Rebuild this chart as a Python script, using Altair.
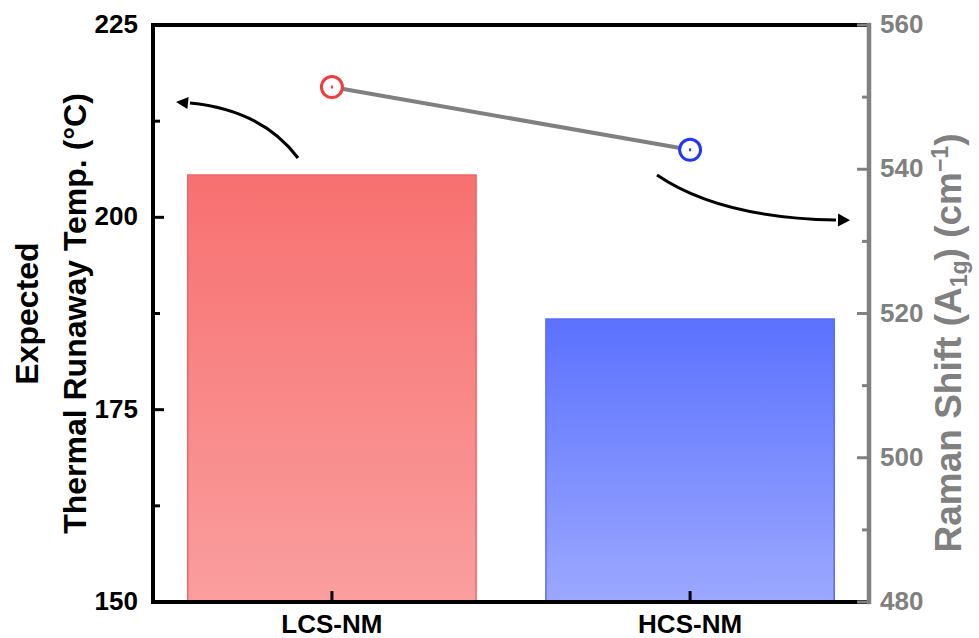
import altair as alt
import pandas as pd

# --- data -------------------------------------------------------------
samples = ["LCS-NM", "HCS-NM"]
runaway_temp = [205.5, 186.8]          # expected thermal runaway temperature (°C)
raman_shift = [551.4, 542.7]           # Raman A1g peak position (cm^-1)
raman_err = [0.2, 0.2]

temp_major = [150, 175, 200, 225]
temp_minor = [162.5, 187.5, 212.5]
raman_major = [480, 500, 520, 540, 560]
raman_minor = [490, 510, 530, 550]

# --- style ------------------------------------------------------------
W, H = 716, 577
FONT = "Liberation Sans"
GRAY = "#808080"
bar_colors = {
    "LCS-NM": ("#F87070", "#FA9E9E", "#F06666"),
    "HCS-NM": ("#5B71FF", "#9CA8FE", "#5A6CF8"),
}
point_colors = ["#F23B3B", "#2038F2"]

df = pd.DataFrame({
    "sample": samples,
    "temp": runaway_temp,
    "raman": raman_shift,
    "lo": [v - e for v, e in zip(raman_shift, raman_err)],
    "hi": [v + e for v, e in zip(raman_shift, raman_err)],
})
one = pd.DataFrame({"k": [0]})

temp_scale = alt.Scale(domain=[150, 225], zero=False, nice=False)
raman_scale = alt.Scale(domain=[480, 560], zero=False, nice=False)
x_scale = alt.Scale(domain=samples, paddingInner=0.195, paddingOuter=0.097)

X = alt.X("sample:N", sort=samples, scale=x_scale, axis=None)


def bar_layer(name):
    top, bottom, edge = bar_colors[name]
    grad = alt.Gradient(
        gradient="linear",
        stops=[alt.GradientStop(color=top, offset=0),
               alt.GradientStop(color=bottom, offset=1)],
        x1=0, x2=0, y1=0, y2=1,
    )
    return alt.Chart(df).transform_filter(alt.datum.sample == name).mark_bar(
        fill=grad, stroke=edge, strokeWidth=1.5
    ).encode(
        x=X,
        y=alt.Y("temp:Q", scale=temp_scale, axis=None),
        y2=alt.datum(150),
    )


def frame_line(x0, x1, y0, y1, color, width):
    return alt.Chart(one).mark_rule(color=color, strokeWidth=width,
                                    strokeCap="square").encode(
        x=alt.value(x0), x2=alt.value(x1), y=alt.value(y0), y2=alt.value(y1)
    )


def tick_rules(values, scale, x0, x1, color, width):
    d = pd.DataFrame({"v": values})
    return alt.Chart(d).mark_rule(color=color, strokeWidth=width).encode(
        y=alt.Y("v:Q", scale=scale, axis=None),
        x=alt.value(x0), x2=alt.value(x1),
    )


def tick_labels(values, scale, x, align, color):
    d = pd.DataFrame({"v": values, "t": [f"{v:g}" for v in values]})
    return alt.Chart(d).mark_text(
        align=align, baseline="middle", font=FONT, fontSize=26,
        fontWeight="bold", color=color
    ).encode(
        y=alt.Y("v:Q", scale=scale, axis=None),
        x=alt.value(x),
        text="t:N",
    )


# temperature side: bars, left axis, bottom axis and frame
left_part = alt.layer(
    bar_layer("LCS-NM"),
    bar_layer("HCS-NM"),
    frame_line(0, W, 0, 0, "black", 4),          # top
    frame_line(0, W, H, H, "black", 4),          # bottom
    frame_line(0, 0, 0, H, "black", 4),          # left
    tick_rules(temp_major, temp_scale, 0, 11, "black", 3),
    tick_rules(temp_minor, temp_scale, 0, 7, "black", 3),
    tick_labels(temp_major, temp_scale, -15, "right", "black"),
    alt.Chart(df).mark_rule(color="black", strokeWidth=3).encode(
        x=X, y=alt.value(H - 11), y2=alt.value(H)
    ),
    alt.Chart(df).mark_text(
        baseline="top", font=FONT, fontSize=26, fontWeight="bold", color="black"
    ).encode(x=X, y=alt.value(H + 10), text="sample:N"),
)

# Raman side: connecting line, hollow markers, small error bars, right axis
raman_line = alt.Chart(df).mark_line(color=GRAY, strokeWidth=4).encode(
    x=X, y=alt.Y("raman:Q", scale=raman_scale, axis=None),
)
raman_pts = alt.Chart(df).mark_point(
    shape="circle", size=440, filled=True, fill="white", fillOpacity=1,
    strokeWidth=3, opacity=1
).encode(
    x=X,
    y=alt.Y("raman:Q", scale=raman_scale, axis=None),
    stroke=alt.Stroke("sample:N", scale=alt.Scale(domain=samples, range=point_colors),
                      legend=None),
)
raman_err_bars = alt.Chart(df).mark_rule(strokeWidth=2).encode(
    x=X,
    y=alt.Y("lo:Q", scale=raman_scale, axis=None),
    y2="hi:Q",
    color=alt.Color("sample:N", scale=alt.Scale(domain=samples, range=point_colors),
                    legend=None),
)

right_part = alt.layer(
    raman_line, raman_pts, raman_err_bars,
    frame_line(W, W, 0, H, GRAY, 4.5),
    tick_rules(raman_major, raman_scale, W - 12, W, GRAY, 3),
    tick_rules(raman_minor, raman_scale, W - 7, W, GRAY, 3),
    tick_labels(raman_major, raman_scale, W + 11, "left", GRAY),
)


# curved annotation arrows (custom symbol paths, unit box scaled by size)
def arrow(cx, cy, curve, head):
    body = alt.Chart(one).mark_point(
        shape=curve, size=40000, filled=False, stroke="black", strokeWidth=3,
        opacity=1
    ).encode(x=alt.value(cx), y=alt.value(cy))
    tip = alt.Chart(one).mark_point(
        shape=head, size=40000, filled=True, fill="black", strokeWidth=0,
        opacity=1
    ).encode(x=alt.value(cx), y=alt.value(cy))
    return [body, tip]


arrow_left = arrow(84, 105,
                   "M 0.61 0.28 Q 0.25 -0.20 -0.47 -0.27",
                   "M -0.61 -0.281 L -0.484 -0.330 L -0.496 -0.210 Z")
arrow_right = arrow(600, 172,
                    "M -0.96 -0.22 Q -0.33 0.21 0.83 0.23",
                    "M 0.97 0.232 L 0.849 0.295 L 0.851 0.165 Z")


# axis titles
def label(text, x, y, size, color="black", align="center", baseline="middle"):
    return alt.Chart(one).mark_text(
        text=text, angle=270, font=FONT, fontSize=size, fontWeight="bold",
        color=color, align=align, baseline=baseline
    ).encode(x=alt.value(x), y=alt.value(y))


left_title = [
    label("Expected", -125, H / 2, 32),
    label("Thermal Runaway Temp. (°C)", -77, H / 2, 32),
]

# right title assembled from pieces so that A1g and cm-1 get sub/superscripts
big, small = 37, 23
pieces = [
    ("Raman Shift (A", big, 0, 7.167),
    ("1g", small, 6, 1.167),
    (") (cm", big, 0, 2.389),
    ("\u22121", small, -13, 1.140),
    (")", big, 0, 0.333),
]
total = sum(sz * em for _, sz, _, em in pieces)
base_x = 808
y_cursor = 318 + total / 2
right_title = []
for text, sz, shift, em in pieces:
    right_title.append(label(text, base_x + shift, y_cursor, sz, GRAY,
                             align="left", baseline="alphabetic"))
    y_cursor -= sz * em

chart = alt.layer(
    left_part, right_part, *arrow_left, *arrow_right, *left_title, *right_title
).resolve_scale(
    y="independent"
).properties(
    width=W, height=H,
    padding={"left": 153, "top": 25, "right": 110, "bottom": 36},
    autosize=alt.AutoSizeParams(type="none"),
    background="white",
).configure_view(
    stroke=None
)

chart.save("out.html", embed_options={"renderer": "svg", "actions": False})
